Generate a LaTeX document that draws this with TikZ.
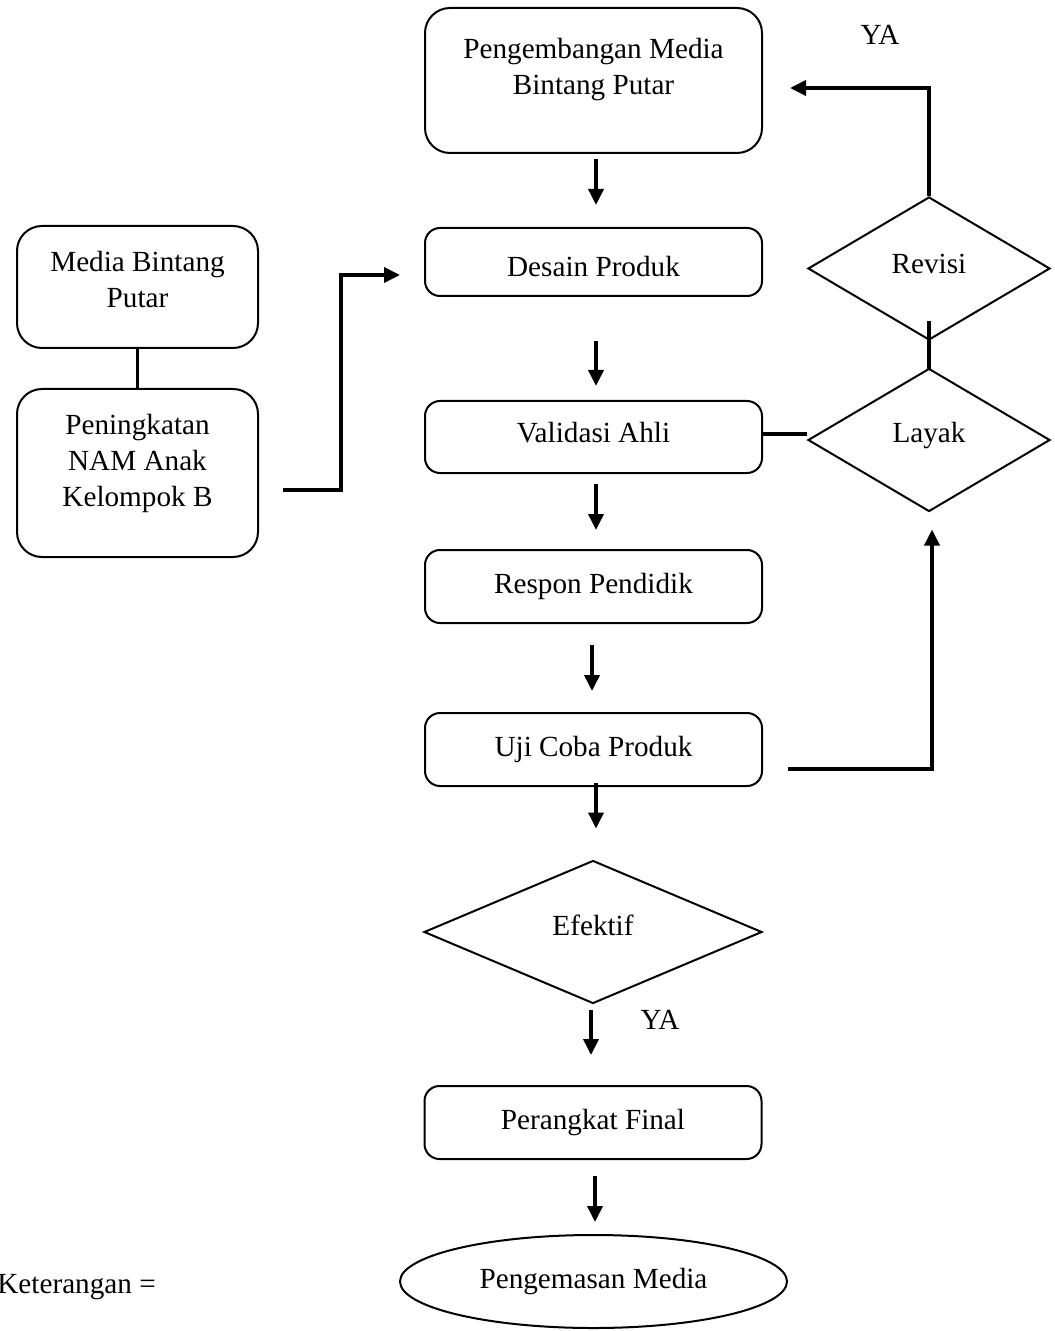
\documentclass[tikz,border=0pt]{standalone}
\usepackage{fontspec}
\setmainfont{Liberation Serif}
\usetikzlibrary{shapes.geometric,arrows.meta,calc}
\begin{document}
\begin{tikzpicture}[x=0.5pt,y=-0.5pt,
  txt/.style={font=\fontsize{14.6}{18}\selectfont, align=center},
  box/.style={draw, line width=1pt, rounded corners=7.5pt, minimum width=168.5pt, inner sep=0pt, txt},
  bigbox/.style={draw, line width=1pt, rounded corners=12.5pt, inner sep=0pt},
  dia/.style={draw, diamond, line width=1pt, inner sep=0pt, txt},
  arr/.style={line width=1.8pt, -{Triangle[length=8pt,width=7.5pt]}},
  conn/.style={line width=1.8pt}]
\useasboundingbox (0,0) rectangle (1054,1331);

% main column
\node[bigbox, minimum width=168.5pt, minimum height=72.5pt,
  label={[txt,yshift=5.25pt]center:Pengembangan Media\\Bintang Putar}] (b1) at (593.5,80.5) {};
\node[box, minimum height=34pt, label={[txt,yshift=-2.5pt]center:Desain Produk}] (b2) at (593.5,262) {};
\node[box, minimum height=36pt, label={[txt,yshift=2pt]center:Validasi Ahli}] (b3) at (593.5,437) {};
\node[box, minimum height=36.5pt] (b4) at (593.5,586.5) {Respon Pendidik};
\node[box, minimum height=36.5pt] (b5) at (593.5,749.5) {Uji Coba Produk};
\node[dia, minimum width=169pt, minimum height=71.5pt, label={[txt,yshift=3.5pt]center:Efektif}] (ef) at (593,932) {};
\node[box, minimum height=36.5pt] (fin) at (593,1122.5) {Perangkat Final};
\node[draw, ellipse, line width=1pt, minimum width=193.5pt, minimum height=46.5pt, inner sep=0pt, txt] (em) at (593.5,1281.5) {Pengemasan Media};

% left column
\node[bigbox, minimum width=120.5pt, minimum height=61pt,
  label={[txt,yshift=3.75pt]center:Media Bintang\\Putar}] (l1) at (137.5,287) {};
\node[bigbox, minimum width=120.5pt, minimum height=84pt,
  label={[txt,yshift=5pt]center:Peningkatan\\NAM Anak\\Kelompok B}] (l2) at (137.5,473) {};

% right column
\node[dia, minimum width=121pt, minimum height=71.5pt, label={[txt,yshift=2.5pt]center:Revisi}] (rev) at (929,268.5) {};
\node[dia, minimum width=121pt, minimum height=71.5pt, label={[txt,yshift=2pt]center:Layak}] (lay) at (929,440) {};

% texts
\node[txt] (ya1) at (880,35) {YA};
\node[txt] (ya2) at (660,1020) {YA};
\node[txt, anchor=west, inner sep=0pt] (ket) at (-3,1287) {Keterangan =};

% arrows main column
\draw[arr] ($(b1.south)+(2.5,5)$) -- ($(b2.north)+(2.5,-22)$);
\draw[arr] ($(b2.south)+(2.5,44)$) -- ($(b3.north)+(2.5,-14)$);
\draw[arr] ($(b3.south)+(2.5,10)$) -- ($(b4.north)+(2.5,-19)$);
\draw[arr] ($(b4.south)+(-1.5,21)$) -- ($(b5.north)+(-1.5,-21)$);
\draw[arr] ($(b5.south)+(2.5,-4)$) -- ($(ef.north)+(3,-31)$);
\draw[arr] ($(ef.south)+(-2,5.5)$) -- ($(fin.north)+(-2,-30)$);
\draw[arr] ($(fin.south)+(2,16)$) -- ($(em.north)+(1.5,-12)$);

% left connectors
\draw[conn] (l1.south) -- (l2.north);
\draw[arr] ($(l2.east)+(24,17)$) -| ($(b2.west)+(-83,13)$) -- ($(b2.west)+(-24,13)$);

% right connectors
\draw[arr] (rev.north) |- ($(b1.east)+(27,7.5)$);
\draw[conn] ($(rev.south)+(0,-20)$) -- ($(lay.north)+(0,2)$);
\draw[conn] ($(b3.east)+(0,-3)$) -- ($(lay.west)+(0,-6)$);
\draw[arr] ($(b5.east)+(25,19.5)$) -| ($(lay.south)+(3,17)$);
\end{tikzpicture}
\end{document}
